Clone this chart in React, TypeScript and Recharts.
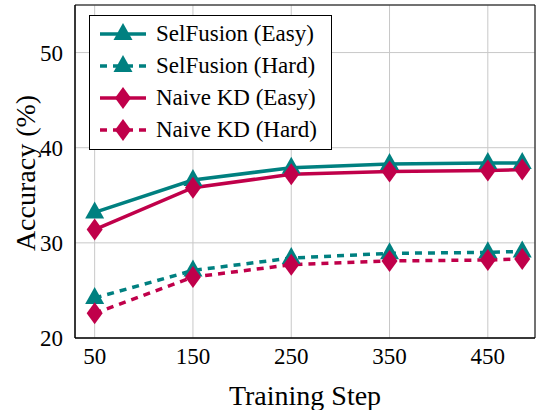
import React from 'react';
import { LineChart, Line, XAxis, YAxis, CartesianGrid, Legend, ReferenceArea, Label } from 'recharts';

const steps = [50, 150, 250, 350, 450, 485];
const selFusionEasy = [33.2, 36.6, 37.9, 38.3, 38.4, 38.4];
const selFusionHard = [24.2, 27.1, 28.4, 28.9, 29.0, 29.1];
const naiveKdEasy = [31.4, 35.8, 37.2, 37.5, 37.6, 37.7];
const naiveKdHard = [22.6, 26.4, 27.7, 28.1, 28.2, 28.3];

const xTicks = [50, 150, 250, 350, 450];
const yTicks = [20, 30, 40, 50];

const TEAL = '#008080';
const CRIMSON = '#c0004a';
const FONT = 'Liberation Serif, DejaVu Serif, serif';

const data = steps.map((step, i) => ({
  step,
  selEasy: selFusionEasy[i],
  selHard: selFusionHard[i],
  naiveEasy: naiveKdEasy[i],
  naiveHard: naiveKdHard[i],
}));

const series = [
  { key: 'selEasy', name: 'SelFusion (Easy)', color: TEAL, dashed: false, marker: 'triangle' },
  { key: 'selHard', name: 'SelFusion (Hard)', color: TEAL, dashed: true, marker: 'triangle' },
  { key: 'naiveEasy', name: 'Naive KD (Easy)', color: CRIMSON, dashed: false, marker: 'diamond' },
  { key: 'naiveHard', name: 'Naive KD (Hard)', color: CRIMSON, dashed: true, marker: 'diamond' },
];

const markerPoints = (type: string, cx: number, cy: number) =>
  type === 'triangle'
    ? `${cx},${cy - 11} ${cx - 9.5},${cy + 6} ${cx + 9.5},${cy + 6}`
    : `${cx},${cy - 11} ${cx + 8},${cy} ${cx},${cy + 11} ${cx - 8},${cy}`;

const makeDot = (type: string, color: string) => (props: any) => {
  const { cx, cy, index } = props;
  if (cx == null || cy == null) return <g key={index} />;
  return <polygon key={index} points={markerPoints(type, cx, cy)} fill={color} />;
};

const LegendBox = () => (
  <div
    style={{
      width: 241,
      height: 131,
      border: '1px solid #000',
      background: '#fff',
      fontFamily: FONT,
      fontSize: 23,
      color: '#000',
      boxSizing: 'content-box',
      paddingTop: 2,
    }}
  >
    {series.map((s) => (
      <div key={s.key} style={{ display: 'flex', alignItems: 'center', height: 32, lineHeight: '32px' }}>
        <svg width={60} height={32} style={{ marginLeft: 6, flex: 'none' }}>
          <line
            x1={4}
            x2={50}
            y1={16}
            y2={16}
            stroke={s.color}
            strokeWidth={3.5}
            strokeDasharray={s.dashed ? '7 6' : undefined}
          />
          <polygon points={markerPoints(s.marker, 27, 16)} fill={s.color} />
        </svg>
        <span>{s.name}</span>
      </div>
    ))}
  </div>
);

export default function App() {
  return (
    <div style={{ position: 'absolute', left: 0, top: 0, background: '#fff', fontFamily: FONT }}>
      <LineChart width={536} height={410} data={data} margin={{ top: 5, right: 1, bottom: 0, left: 0 }}>
        <CartesianGrid stroke="#c8c8c8" strokeWidth={1} />
        <XAxis
          dataKey="step"
          type="number"
          domain={[30, 498]}
          ticks={xTicks}
          height={72}
          tickSize={0}
          tickMargin={10}
          axisLine={{ stroke: '#000' }}
          tick={{ fill: '#000', fontSize: 23, fontFamily: FONT }}
        >
          <Label
            value="Training Step"
            position="insideBottom"
            offset={5}
            style={{ fill: '#000', fontSize: 28, fontFamily: FONT }}
          />
        </XAxis>
        <YAxis
          type="number"
          domain={[20, 55]}
          ticks={yTicks}
          width={75}
          tickSize={0}
          tickMargin={12}
          axisLine={{ stroke: '#000' }}
          tick={{ fill: '#000', fontSize: 23, fontFamily: FONT }}
        >
          <Label
            content={() => (
              <text
                x={25}
                y={173}
                transform="rotate(-90 25 173)"
                textAnchor="middle"
                dominantBaseline="central"
                style={{ fill: '#000', fontSize: 28, fontFamily: FONT }}
              >
                Accuracy (%)
              </text>
            )}
          />
        </YAxis>
        <ReferenceArea x1={30} x2={498} y1={20} y2={55} fill="none" stroke="#000" strokeWidth={1} ifOverflow="visible" />
        {series.map((s) => (
          <Line
            key={s.key}
            type="linear"
            dataKey={s.key}
            name={s.name}
            stroke={s.color}
            strokeWidth={3.5}
            strokeDasharray={s.dashed ? '7 6' : undefined}
            dot={makeDot(s.marker, s.color)}
            activeDot={false}
            isAnimationActive={false}
          />
        ))}
        <Legend
          layout="vertical"
          align="center"
          verticalAlign="middle"
          content={() => <LegendBox />}
          wrapperStyle={{ position: 'absolute', left: 89, top: 15, width: 243, height: 135 }}
        />
      </LineChart>
    </div>
  );
}
